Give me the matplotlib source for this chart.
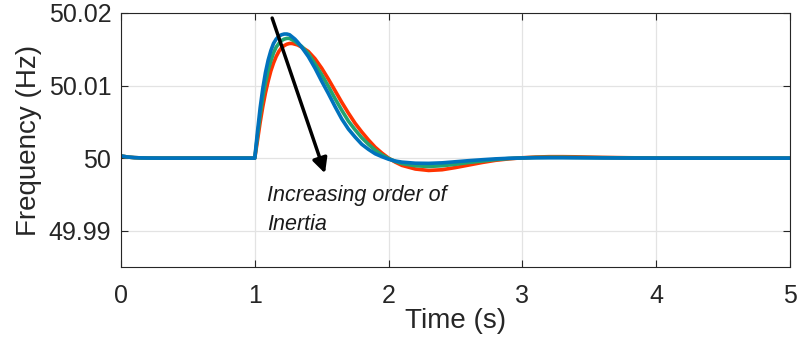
import matplotlib
matplotlib.use('Agg')
import matplotlib.pyplot as plt
import numpy as np

plt.rcParams['font.family'] = ['Liberation Sans', 'DejaVu Sans']

# time samples (s)
t = [0, 0.05, 0.1, 0.15, 0.2, 0.3, 0.5, 1.0,
     1.02, 1.04, 1.06, 1.08, 1.1, 1.12, 1.14, 1.16, 1.18, 1.2,
     1.22, 1.24, 1.26, 1.28, 1.3, 1.32, 1.35, 1.4, 1.45, 1.5,
     1.55, 1.6, 1.65, 1.7, 1.75, 1.8, 1.85, 1.9, 1.95, 2.0,
     2.05, 2.1, 2.2, 2.3, 2.4, 2.5, 2.6, 2.7, 2.8, 2.9,
     3.0, 3.1, 3.2, 3.3, 3.4, 3.6, 3.8, 4.0, 4.5, 5.0]

# frequency deviation from 50 Hz (mHz)
dev_low = [0.3, 0.15, 0.07, 0.03, 0.01, 0, 0, 0,
           2.4, 4.9, 7.1, 9.0, 10.6, 12.0, 13.1, 14.0, 14.7, 15.2,
           15.5, 15.7, 15.8, 15.8, 15.7, 15.6, 15.3, 14.7, 13.7, 12.4,
           10.9, 9.3, 7.7, 6.2, 4.8, 3.6, 2.5, 1.5, 0.7, 0.0,
           -0.55, -1.0, -1.5, -1.7, -1.6, -1.3, -0.95, -0.6, -0.3, -0.1,
           0.05, 0.15, 0.2, 0.2, 0.18, 0.1, 0.05, 0.02, 0, 0]
dev_mid = [0.3, 0.15, 0.07, 0.03, 0.01, 0, 0, 0,
           3.0, 5.9, 8.4, 10.4, 12.1, 13.4, 14.5, 15.3, 15.8, 16.2,
           16.4, 16.5, 16.5, 16.3, 16.1, 15.8, 15.4, 14.4, 13.0, 11.5,
           9.9, 8.2, 6.6, 5.1, 3.9, 2.8, 1.9, 1.1, 0.45, -0.05,
           -0.45, -0.75, -1.05, -1.15, -1.05, -0.85, -0.6, -0.4, -0.2, -0.05,
           0.03, 0.1, 0.12, 0.12, 0.1, 0.06, 0.03, 0.01, 0, 0]
dev_high = [0.3, 0.15, 0.07, 0.03, 0.01, 0, 0, 0,
            3.6, 6.9, 9.6, 11.8, 13.5, 14.8, 15.8, 16.4, 16.8, 17.0,
            17.1, 17.1, 17.0, 16.7, 16.4, 16.0, 15.3, 14.0, 12.4, 10.6,
            8.9, 7.1, 5.4, 4.0, 2.9, 1.9, 1.2, 0.6, 0.2, -0.15,
            -0.4, -0.55, -0.7, -0.72, -0.65, -0.5, -0.35, -0.22, -0.1, -0.02,
            0.02, 0.04, 0.05, 0.05, 0.04, 0.02, 0.01, 0, 0, 0]

yticks = [49.99, 50, 50.01, 50.02]
ytick_labels = ['49.99', '50', '50.01', '50.02']
xticks = [0, 1, 2, 3, 4, 5]

fig = plt.figure(figsize=(7.99, 3.49), dpi=100)
ax = fig.add_axes([0.1514, 0.235, 0.8373, 0.7278])

t = np.array(t)
for dev, c in [(dev_low, '#FF3300'), (dev_mid, '#22A36F'), (dev_high, '#0072BD')]:
    ax.plot(t, 50 + np.array(dev) / 1000.0, color=c, lw=2.6, solid_capstyle='round')

ax.set_xlim(0, 5)
ax.set_ylim(49.985, 50.02)
ax.set_xticks(xticks)
ax.set_yticks(yticks)
ax.set_yticklabels(ytick_labels)
ax.grid(True, color='#e3e3e3', lw=0.9)
ax.set_axisbelow(True)
ax.tick_params(direction='in', labelsize=18, colors='#262626', length=5, width=0.8,
               top=True, right=True)
ax.tick_params(axis='x', pad=12)
ax.tick_params(axis='y', pad=7)
for s in ax.spines.values():
    s.set_color('#262626')
    s.set_linewidth(0.8)

ax.set_xlabel('Time (s)', fontsize=20, color='#262626', labelpad=0)
ax.set_ylabel('Frequency (Hz)', fontsize=20, color='#262626', labelpad=5)

ax.annotate('', xy=(1.525, 49.9979), xytext=(1.13, 50.0193),
            arrowprops=dict(arrowstyle='-|>', color='black', lw=2.5,
                            mutation_scale=22, shrinkA=0, shrinkB=0))
ax.text(1.09, 49.99285, 'Increasing order of\nInertia', fontsize=15.5, style='italic',
        color='#1a1a1a', va='center', ha='left', linespacing=1.55)

fig.savefig('out.png', dpi=100)
